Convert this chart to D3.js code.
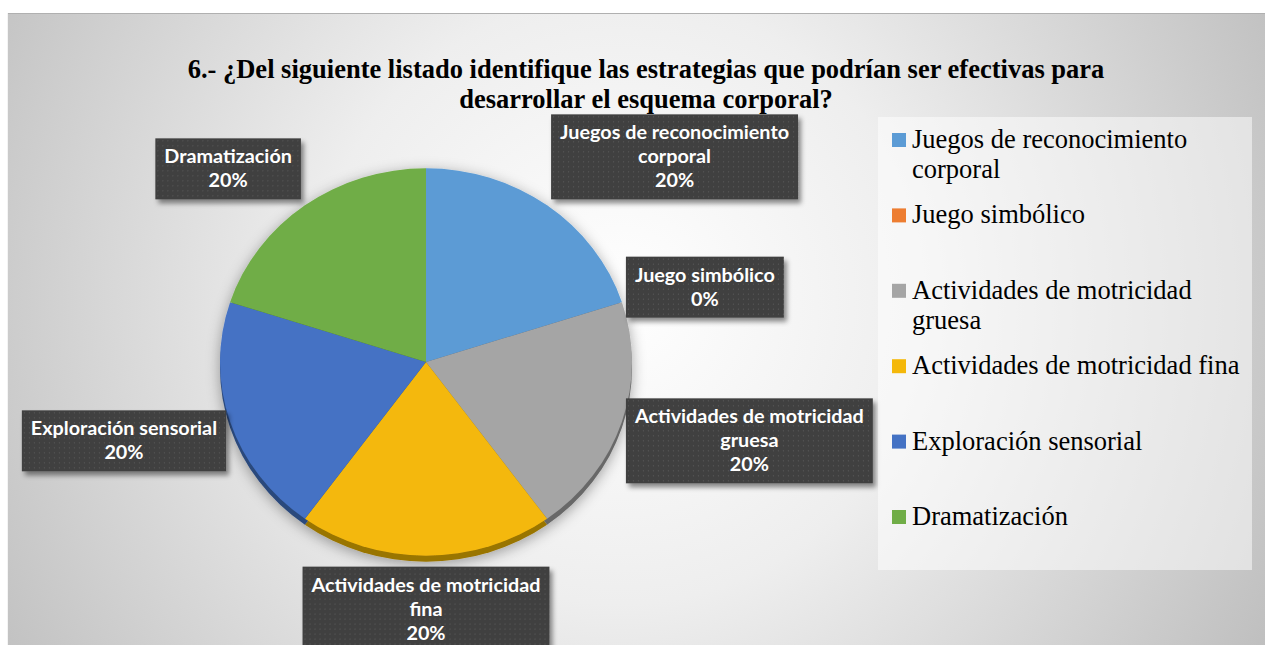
<!DOCTYPE html>
<html>
<head>
<meta charset="utf-8">
<script src="https://cdn.jsdelivr.net/npm/d3@7"></script>
<style>
  body { margin: 0; background: #fff; }
  svg { display: block; }
</style>
</head>
<body>
<svg id="chart"></svg>
<script>
// data
const categories = [
  "Juegos de reconocimiento corporal",
  "Juego simbólico",
  "Actividades de motricidad gruesa",
  "Actividades de motricidad fina",
  "Exploración sensorial",
  "Dramatización"
];
const values = [20, 0, 20, 20, 20, 20];
const titleLines = [
  "6.- ¿Del siguiente listado identifique las estrategias que podrían ser efectivas para",
  "desarrollar el esquema corporal?"
];

const sliceColors = ["#5b9bd5", "#ed7d31", "#a5a5a5", "#f4b80a", "#4472c4", "#70ad47"];

const width = 1265, height = 645;
const cx = 426, cy = 362, radius = 206, tilt = 0.94, depth = 6;

const svg = d3.select("#chart").attr("width", width).attr("height", height);
const defs = svg.append("defs");

// background gradient
const bg = defs.append("radialGradient").attr("id", "bgGrad")
  .attr("gradientUnits", "userSpaceOnUse")
  .attr("cx", 620).attr("cy", 300).attr("r", 760);
bg.append("stop").attr("offset", "0%").attr("stop-color", "#ffffff");
bg.append("stop").attr("offset", "40%").attr("stop-color", "#eeeeee");
bg.append("stop").attr("offset", "100%").attr("stop-color", "#bcbcbc");

// dotted fill for the label boxes
const pat = defs.append("pattern").attr("id", "dots")
  .attr("patternUnits", "userSpaceOnUse").attr("width", 5).attr("height", 5);
pat.append("rect").attr("width", 5).attr("height", 5).attr("fill", "#404040");
pat.append("rect").attr("x", 2).attr("y", 2).attr("width", 1).attr("height", 1).attr("fill", "#5c5c5c");

const boxShadow = defs.append("filter").attr("id", "boxShadow")
  .attr("x", "-10%").attr("y", "-20%").attr("width", "130%").attr("height", "150%");
boxShadow.append("feDropShadow").attr("dx", 3).attr("dy", 4).attr("stdDeviation", 2.5)
  .attr("flood-color", "#000").attr("flood-opacity", 0.45);

const pieShadow = defs.append("filter").attr("id", "pieShadow")
  .attr("x", "-20%").attr("y", "-20%").attr("width", "140%").attr("height", "140%");
pieShadow.append("feDropShadow").attr("dx", 0).attr("dy", 3).attr("stdDeviation", 7)
  .attr("flood-color", "#000").attr("flood-opacity", 0.35);

// chart area
svg.append("rect").attr("x", 7).attr("y", 13).attr("width", width - 7).attr("height", height - 13)
  .attr("fill", "url(#bgGrad)");
svg.append("line").attr("x1", 7).attr("x2", width).attr("y1", 13.5).attr("y2", 13.5)
  .attr("stroke", "#b0b0b0");
svg.append("line").attr("x1", 7.5).attr("x2", 7.5).attr("y1", 13).attr("y2", height)
  .attr("stroke", "#f4f4f4");

// title
svg.append("text")
  .attr("x", 646).attr("y", 77.5)
  .attr("text-anchor", "middle")
  .style("font-family", "'Liberation Serif', 'Times New Roman', serif")
  .attr("font-weight", "bold")
  .style("font-size", "26.5px")
  .attr("fill", "#000")
  .selectAll("tspan").data(titleLines).join("tspan")
    .attr("x", 646).attr("dy", (d, i) => i ? 30 : 0)
    .text(d => d);

// pie
const data = categories.map((c, i) => ({ name: c, value: values[i] }));
const total = d3.sum(values);
const fmt = d3.format(".0%");
const color = d3.scaleOrdinal().domain(categories).range(sliceColors);

const pie = d3.pie().sort(null).value(d => d.value);
const arcs = pie(data);
const arc = d3.arc().innerRadius(0).outerRadius(radius);
const edgeArc = d3.arc().innerRadius(radius).outerRadius(radius);

const pieG = svg.append("g").attr("filter", "url(#pieShadow)");

// 3d rim
pieG.append("g")
  .attr("transform", `translate(${cx},${cy + depth}) scale(1,${tilt})`)
  .selectAll("path").data(arcs).join("path")
    .attr("d", arc)
    .attr("fill", d => d3.color(color(d.data.name)).darker(1.3));

pieG.append("g")
  .attr("transform", `translate(${cx},${cy}) scale(1,${tilt})`)
  .selectAll("path").data(arcs).join("path")
    .attr("d", arc)
    .attr("fill", d => color(d.data.name));

// wrap helper using a hidden text node
const measure = svg.append("text").attr("visibility", "hidden");
function wrap(str, maxW, font, size, weight) {
  measure.style("font-family", font).attr("font-weight", weight).style("font-size", size + "px");
  const words = str.split(" ");
  const lines = [];
  let cur = words[0];
  for (let i = 1; i < words.length; i++) {
    measure.text(cur + " " + words[i]);
    if (measure.node().getComputedTextLength() > maxW) {
      lines.push(cur);
      cur = words[i];
    } else {
      cur += " " + words[i];
    }
  }
  lines.push(cur);
  return lines;
}
function textW(str) {
  measure.text(str);
  return measure.node().getComputedTextLength();
}

// data labels
const lblFont = "Lato, 'Open Sans', sans-serif";
const lblSize = 19.8, lineH = 24, padX = 9;

arcs.forEach(d => {
  const lines = wrap(d.data.name, 245, lblFont, lblSize, "bold");
  lines.push(fmt(d.data.value / total));
  const w = d3.max(lines, l => textW(l)) + padX * 2;
  const h = lines.length * lineH + 13;

  const [ex, ey] = edgeArc.centroid(d);
  const px = cx + ex, py = cy + ey * tilt;
  const a = (d.startAngle + d.endAngle) / 2;
  const s = Math.sin(a), c = Math.cos(a);

  let x0, y0;
  if (s > 0.1) x0 = px + 4;
  else if (s < -0.1) x0 = px - 4 - w;
  else x0 = px - w / 2;
  if (c > 0.5) y0 = py - 6 - h;
  else if (c < -0.5) y0 = py + depth + 5;
  else y0 = py - c * 55 + 2 - h / 2;

  const g = svg.append("g").attr("transform", `translate(${x0},${y0})`);
  g.append("rect").attr("width", w).attr("height", h)
    .attr("fill", "url(#dots)").attr("filter", "url(#boxShadow)");
  g.append("text")
    .attr("text-anchor", "middle")
    .style("font-family", lblFont)
    .attr("font-weight", "bold")
    .style("font-size", lblSize + "px")
    .attr("fill", "#fff")
    .selectAll("tspan").data(lines).join("tspan")
      .attr("x", w / 2)
      .attr("y", (l, i) => 25 + lineH * i)
      .text(l => l);
});

// legend
const legFont = "'Liberation Serif', 'Times New Roman', serif";
const legSize = 26.5;
const legend = svg.append("g");
legend.append("rect").attr("x", 878).attr("y", 117).attr("width", 374).attr("height", 453)
  .attr("fill", "#fff").attr("fill-opacity", 0.5);

const legStep = 75.4;
data.forEach((d, i) => {
  const top = 133 + legStep * i;
  legend.append("rect").attr("x", 892).attr("y", top).attr("width", 14).attr("height", 14)
    .attr("fill", color(d.name));
  const lines = wrap(d.name, 336, legFont, legSize, "normal");
  legend.append("text")
    .style("font-family", legFont)
    .style("font-size", legSize + "px")
    .attr("fill", "#000")
    .selectAll("tspan").data(lines).join("tspan")
      .attr("x", 912)
      .attr("y", (l, j) => top + 15 + j * 30)
      .text(l => l);
});

measure.remove();
</script>
</body>
</html>
